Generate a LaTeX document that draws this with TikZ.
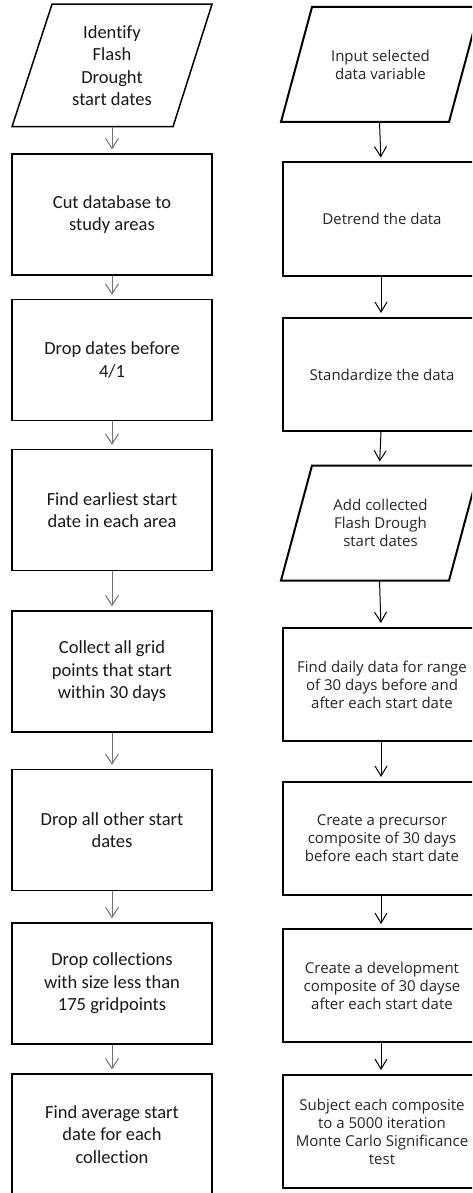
\documentclass[tikz,border=0pt]{standalone}
\usepackage{fontspec}
\setmainfont{Carlito}[Ligatures=NoCommon]
\newfontfamily\rfont{Open Sans}
\usetikzlibrary{arrows.meta}
\begin{document}
\begin{tikzpicture}[x=1pt,y=-1pt,
  lbox/.style={draw=black,line width=1.5pt,minimum width=200pt,minimum height=121pt,inner sep=0pt,align=center,
    font=\fontsize{18.5}{22.5}\selectfont,text=black!90},
  lpar/.style={lbox,draw=none,minimum width=160pt},
  rbox/.style={draw=black,line width=2pt,minimum width=198pt,minimum height=113pt,inner sep=0pt,align=center,
    font=\rfont\fontsize{15}{18}\selectfont,text=black!85},
  rpar/.style={rbox,draw=none,minimum width=168pt},
  larr/.style={draw=black!55,line width=1pt,-{Straight Barb[length=10pt,width=13pt]},shorten >=4pt},
  rarr/.style={draw=black,line width=1pt,-{Straight Barb[length=10pt,width=12pt]},shorten >=4pt},
  pline/.style={line width=1.5pt,line join=miter}
]
\useasboundingbox (0,0) rectangle (472,1193);
\fill[white] (0,0) rectangle (472,1193);
\clip (0,0) rectangle (472,1193);

% left column
\node[lpar] (l1) at (112,65.5) {Identify\\Flash\\Drought\\start dates};
\draw[pline] ([xshift=-60pt]l1.north) -- ([xshift=100pt]l1.north) -- ([xshift=61pt]l1.south) -- ([xshift=-100pt]l1.south) -- cycle;
\node[lbox] (l2) at (112,214.5) {Cut database to\\study areas};
\node[lbox] (l3) at (112,360) {Drop dates before\\4/1};
\node[lbox] (l4) at (112,510) {Find earliest start\\date in each area};
\node[lbox] (l5) at (112,671.5) {Collect all grid\\points that start\\within 30 days};
\node[lbox] (l6) at (112,830) {Drop all other start\\dates};
\node[lbox] (l7) at (112,983.5) {Drop collections\\with size less than\\175 gridpoints};
\node[lbox] (l8) at (112,1134.5) {Find average start\\date for each\\collection};
\foreach \a/\b in {l1/l2,l2/l3,l3/l4,l4/l5,l5/l6,l6/l7,l7/l8}
  \draw[larr] (\a.south) -- (\b.north);

% right column
\node[rpar] (r1) at (380.5,64.5) {Input selected\\data variable};
\draw[line width=2pt,line join=miter] ([xshift=-68.5pt]r1.north) -- ([xshift=99.5pt]r1.north) -- ([xshift=68.5pt]r1.south) -- ([xshift=-99.5pt]r1.south) -- cycle;
\node[rbox] (r2) at (382,219) {Detrend the data};
\node[rbox] (r3) at (382,374.5) {Standardize the data};
\node[rpar] (r4) at (380.5,523) {Add collected\\Flash Drough\\start dates};
\draw[line width=2pt,line join=miter] ([xshift=-68.5pt]r4.north) -- ([xshift=99.5pt]r4.north) -- ([xshift=68.5pt]r4.south) -- ([xshift=-99.5pt]r4.south) -- cycle;
\node[rbox] (r5) at (382,684.5) {Find daily data for range\\of 30 days before and\\after each start date};
\node[rbox] (r6) at (382,838.5) {Create a precursor\\composite of 30 days\\before each start date};
\node[rbox] (r7) at (382,985.5) {Create a development\\composite of 30 dayse\\after each start date};
\node[rbox] (r8) at (382,1131.5) {Subject each composite\\to a 5000 iteration\\Monte Carlo Significance\\test};
\foreach \a/\b in {r1/r2,r2/r3,r3/r4,r4/r5,r5/r6,r6/r7,r7/r8}
  \draw[rarr] ([xshift=-1pt]\a.south) -- ([xshift=-1pt]\b.north);
\end{tikzpicture}
\end{document}
